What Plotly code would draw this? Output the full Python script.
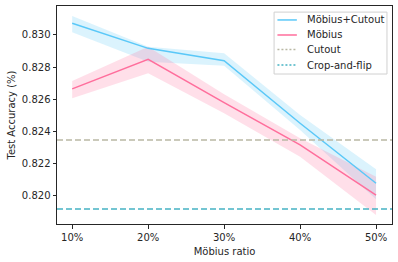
import plotly.graph_objects as go

ratios = [10, 20, 30, 40, 50]
tick_labels = ["10%", "20%", "30%", "40%", "50%"]

mc_mean = [0.83073, 0.82917, 0.82840, 0.82452, 0.82079]
mc_upper = [0.83118, 0.82927, 0.82886, 0.82503, 0.82166]
mc_lower = [0.83017, 0.82834, 0.82809, 0.82410, 0.81980]

m_mean = [0.82665, 0.82849, 0.82580, 0.82317, 0.82006]
m_upper = [0.82714, 0.82927, 0.82632, 0.82358, 0.82120]
m_lower = [0.82607, 0.82762, 0.82514, 0.82244, 0.81882]

cutout_acc = 0.82348
cropflip_acc = 0.81919

legend_names = ["Möbius+Cutout", "Möbius", "Cutout", "Crop-and-flip"]

blue = "#5AC8F8"
pink = "#FF6E9C"
gray = "#B9B8A4"
teal = "#45B3C3"
legend_colors = [blue, pink, gray, teal]
legend_dashes = ["solid", "solid", "2px,2px", "2px,2px"]

fig = go.Figure()

def band(upper, lower, color):
    fig.add_trace(go.Scatter(
        x=ratios + ratios[::-1], y=upper + lower[::-1],
        fill="toself", fillcolor=color, line=dict(width=0),
        mode="lines", showlegend=False, hoverinfo="skip"))

band(mc_upper, mc_lower, "rgba(90,200,248,0.22)")
band(m_upper, m_lower, "rgba(255,110,156,0.22)")

fig.add_trace(go.Scatter(x=ratios, y=mc_mean, mode="lines",
                         line=dict(color=blue, width=1.5), name=legend_names[0], showlegend=False))
fig.add_trace(go.Scatter(x=ratios, y=m_mean, mode="lines",
                         line=dict(color=pink, width=1.5), name=legend_names[1], showlegend=False))

x_full = [8, 52.1]
fig.add_trace(go.Scatter(x=x_full, y=[cutout_acc] * 2, mode="lines",
                         line=dict(color=gray, width=1.5, dash="6px,3px"),
                         name=legend_names[2], showlegend=False, hoverinfo="skip"))
fig.add_trace(go.Scatter(x=x_full, y=[cropflip_acc] * 2, mode="lines",
                         line=dict(color=teal, width=1.5, dash="6px,3px"),
                         name=legend_names[3], showlegend=False, hoverinfo="skip"))

# custom legend box (matplotlib style)
shapes = [dict(type="rect", xref="paper", yref="paper", x0=0.648, x1=0.985, y0=0.688, y1=0.972,
               line=dict(color="#D0D0D0", width=1), fillcolor="rgba(255,255,255,0.8)", layer="above")]
annotations = []
row_y = [0.936, 0.867, 0.800, 0.729]
for name, col, dash, yy in zip(legend_names, legend_colors, legend_dashes, row_y):
    shapes.append(dict(type="line", xref="paper", yref="paper", x0=0.658, x1=0.716, y0=yy, y1=yy,
                       line=dict(color=col, width=1.5, dash=dash), layer="above"))
    annotations.append(dict(xref="paper", yref="paper", x=0.740, y=yy, text=name, showarrow=False,
                            xanchor="left", yanchor="middle",
                            font=dict(family="DejaVu Sans", size=10, color="#262626")))

axis_common = dict(showline=True, linecolor="#262626", linewidth=1, mirror=True,
                   ticks="outside", ticklen=3.5, tickwidth=1, tickcolor="#262626",
                   showgrid=False, zeroline=False, automargin=False,
                   tickfont=dict(family="DejaVu Sans", size=10, color="#262626"),
                   title_font=dict(family="DejaVu Sans", size=10, color="#262626"))

fig.update_layout(
    width=398, height=262,
    margin=dict(l=57, r=6, t=6, b=38),
    paper_bgcolor="white", plot_bgcolor="white",
    font=dict(family="DejaVu Sans", size=10, color="#262626"),
    showlegend=False,
    xaxis=dict(range=[8, 52.1], tickvals=ratios, ticktext=tick_labels,
               title=dict(text="Möbius ratio", standoff=6), **axis_common),
    yaxis=dict(range=[0.81826, 0.83180], tickvals=[0.820, 0.822, 0.824, 0.826, 0.828, 0.830],
               tickformat=".3f", title=dict(text="Test Accuracy (%)", standoff=4), **axis_common),
    shapes=shapes, annotations=annotations,
)

fig.write_html("out.html", config={"displayModeBar": False},
               post_script="document.body.style.margin='0';")
